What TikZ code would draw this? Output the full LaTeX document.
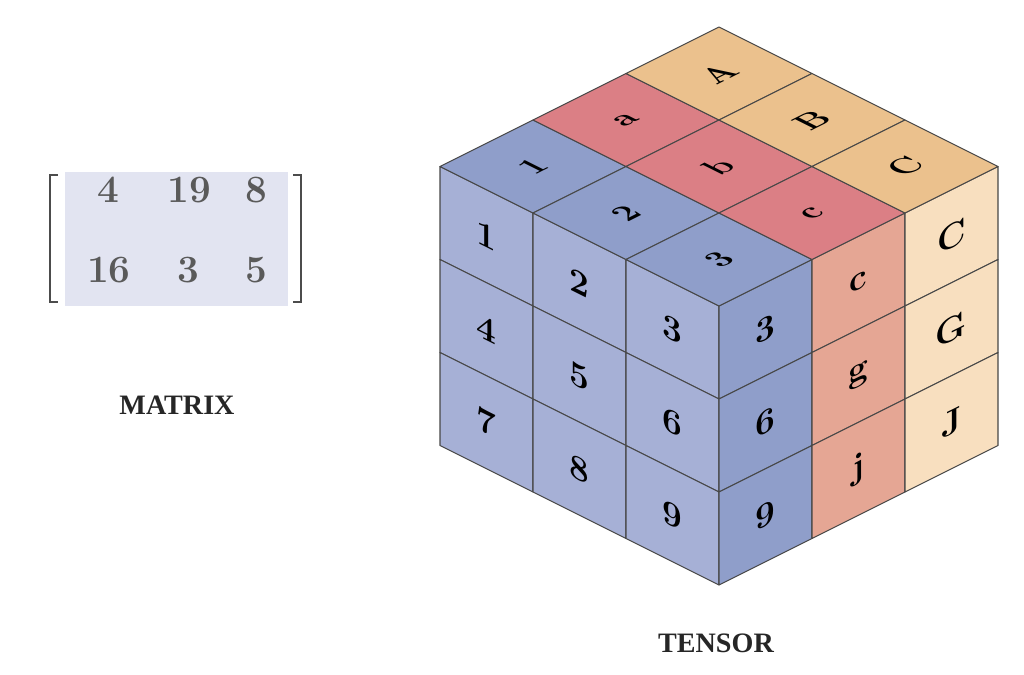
\documentclass[tikz,border=0pt]{standalone}
\usepackage{xcolor}
\usepackage{fontspec}
\usepackage{tikz}
\usetikzlibrary{positioning}
\newfontfamily\capfont{Liberation Serif}
\definecolor{blueFront}{HTML}{A6B0D6}
\definecolor{blueTop}{HTML}{8F9ECA}
\definecolor{redTop}{HTML}{DB7F85}
\definecolor{redSide}{HTML}{E5A694}
\definecolor{orangeTop}{HTML}{EBC18D}
\definecolor{orangeSide}{HTML}{F8DFBF}
\definecolor{matBg}{HTML}{E2E4F1}
\definecolor{matNum}{HTML}{5A5A5A}
\tikzset{
    face/.style={
        draw=black!72,
        line width=0.6pt,
        line join=round
    },
    lab/.style={
        font=\fontsize{20}{24}\selectfont\bfseries,
        inner sep=0pt
    },
    frontlab/.style={lab, yslant=-0.5},
    sidelab/.style={lab, yslant=0.5},
    toplab/.style={lab, font=\fontsize{17}{20}\selectfont\bfseries, yslant=0.5, xslant=-1},
    num/.style={
        font=\fontsize{22}{26}\selectfont\bfseries,
        text=matNum,
        inner sep=0pt
    },
    bracket/.style={draw=black!70, line width=1.5pt},
    caption/.style={font=\capfont\fontsize{16}{19}\selectfont\bfseries, text=black!85}
}

\begin{document}
\begin{tikzpicture}
    \useasboundingbox (0,0) rectangle (20.48,13.5);
    % matrix
    \fill[matBg] (1.3,7.38) rectangle (5.76,10.06);
    \node[num] (m11) at (2.16,9.7) {4};
    \node[num] (m12) at (3.78,9.7) {19};
    \node[num] (m13) at (5.12,9.7) {8};
    \node[num] (m21) at (2.18,8.1) {16};
    \node[num] (m22) at (3.76,8.1) {3};
    \node[num] (m23) at (5.12,8.1) {5};
    \draw[bracket] (1.16,10.0) -- (1.0,10.0) -- (1.0,7.46) -- (1.16,7.46);
    \draw[bracket] (5.86,10.0) -- (6.02,10.0) -- (6.02,7.46) -- (5.86,7.46);
    \node[caption] (matrix) at (3.54,5.4) {MATRIX};
    % tensor
    \begin{scope}[shift={(14.38,1.8)}, x={(-1.86cm,0.93cm)}, y={(1.86cm,0.93cm)}, z={(0cm,1.86cm)}]
        \foreach \txt/\i/\k in {1/2/2, 2/1/2, 3/0/2, 4/2/1, 5/1/1, 6/0/1, 7/2/0, 8/1/0, 9/0/0}{
            \filldraw[face, fill=blueFront] (\i,0,\k) -- ++(1,0,0) -- ++(0,0,1) -- ++(-1,0,0) -- cycle;
            \node[frontlab] (front\txt) at (\i+0.5,0,\k+0.5) {\txt};
        }
        \foreach \txt/\j/\k/\col in {3/0/2/blueTop, 6/0/1/blueTop, 9/0/0/blueTop,
                                     c/1/2/redSide, g/1/1/redSide, j/1/0/redSide,
                                     C/2/2/orangeSide, G/2/1/orangeSide, J/2/0/orangeSide}{
            \filldraw[face, fill=\col] (0,\j,\k) -- ++(0,1,0) -- ++(0,0,1) -- ++(0,-1,0) -- cycle;
            \node[sidelab] (side\txt) at (0,\j+0.5,\k+0.5) {\txt};
        }
        \foreach \txt/\i/\j/\col in {1/2/0/blueTop, 2/1/0/blueTop, 3/0/0/blueTop,
                                     a/2/1/redTop, b/1/1/redTop, c/0/1/redTop,
                                     A/2/2/orangeTop, B/1/2/orangeTop, C/0/2/orangeTop}{
            \filldraw[face, fill=\col] (\i,\j,3) -- ++(1,0,0) -- ++(0,1,0) -- ++(-1,0,0) -- cycle;
            \node[toplab] (top\txt) at (\i+0.5,\j+0.5,3) {\txt};
        }
    \end{scope}
    \node[caption] (tensor) at (14.32,0.64) {TENSOR};
\end{tikzpicture}
\end{document}
